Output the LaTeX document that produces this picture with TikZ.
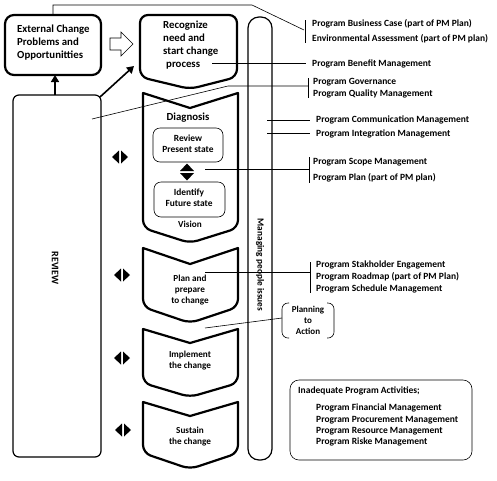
\documentclass[tikz,border=0pt]{standalone}
\usepackage{fontspec}
\setmainfont{Carlito}
\usetikzlibrary{arrows.meta}
\begin{document}
\begin{tikzpicture}[x=1pt,y=-1pt,
  thickline/.style={line width=2.2pt, line join=round},
  thinline/.style={line width=0.6pt},
  medline/.style={line width=1.2pt},
  rtxt/.style={anchor=west, inner sep=0pt, font=\fontsize{9.5}{10}\selectfont\bfseries},
  boxtxt/.style={align=left, anchor=north west, inner sep=0pt, font=\fontsize{10.8}{13}\selectfont\bfseries},
  chevtxt/.style={align=center, inner sep=0pt, font=\fontsize{9.2}{11}\selectfont\bfseries},
  innerbox/.style={draw, thinline, rounded corners=7pt},
  tri/.style={fill=black, draw=none},
  bigarrow/.style={line width=1.6pt, -{Triangle[length=7pt,width=8pt]}}
]
\useasboundingbox (0,0) rectangle (497,480);

% External change box
\node[draw, thickline, rounded corners=9pt, minimum width=96pt, minimum height=60pt, inner sep=0pt] (ext) at (53,45) {};
\node[boxtxt] (exttxt) at (17,25) {External Change\\Problems and\\Opportunitties};

% hollow arrow
\draw[thinline] (110,38) -- (121,38) -- (121,32) -- (133,44) -- (121,56) -- (121,50) -- (110,50) -- cycle;

% Recognize box
\draw[thickline, rounded corners=8pt] (140,45) -- (140,15) -- (237,15) -- (237,77) -- (190,89) -- (140,77) -- cycle;
\node[boxtxt] (rectxt) at (163,20.5) {Recognize\\need and\\start change\\\hspace*{3pt}process};

% REVIEW box
\node[draw, medline, rounded corners=6pt, minimum width=88pt, minimum height=362pt, inner sep=0pt] (review) at (57,276) {};
\node[rotate=-90, inner sep=0pt, font=\fontsize{10}{12}\selectfont\bfseries] (reviewtxt) at (55,268) {REVIEW};

% Managing people bar
\node[draw, medline, rounded corners=11pt, minimum width=24pt, minimum height=443pt, inner sep=0pt] (manage) at (260,238.5) {};
\node[rotate=-90, inner sep=0pt, font=\fontsize{9.3}{11}\selectfont\bfseries] (managetxt) at (260,265) {Managing people issues};

% arrows from review
\coordinate (revtop) at (55,95);
\coordinate (extbot) at (55,75);
\draw[bigarrow] (revtop) -- (extbot);
\coordinate (revcorner) at (100,97);
\coordinate (recleft) at (134,66);
\draw[bigarrow] (revcorner) -- (recleft);

% Chevrons
\draw[thickline] (143,93) -- (190,108) -- (238,93) [rounded corners=8pt] -- (238,228) -- (190,243) -- (143,228) [sharp corners] -- cycle;
\draw[thickline] (143,248) -- (190,264) -- (238,248) [rounded corners=8pt] -- (238,307) -- (190,323) -- (143,307) [sharp corners] -- cycle;
\draw[thickline] (143,329) -- (190,343) -- (238,329) [rounded corners=8pt] -- (238,383) -- (190,397) -- (143,383) [sharp corners] -- cycle;
\draw[thickline] (143,402) -- (190,416) -- (238,402) [rounded corners=8pt] -- (238,453) -- (190,469) -- (143,453) [sharp corners] -- cycle;

% Diagnosis content
\node[chevtxt, font=\fontsize{10.8}{12}\selectfont\bfseries] (diag) at (188,118) {Diagnosis};
\node[innerbox, minimum width=70pt, minimum height=34pt] (present) at (188,145) {};
\node[chevtxt, font=\fontsize{9.4}{11}\selectfont\bfseries] (presenttxt) at (188,144) {Review\\Present state};
\node[innerbox, minimum width=71pt, minimum height=35pt] (future) at (189.5,199.5) {};
\node[chevtxt, font=\fontsize{9.4}{11}\selectfont\bfseries] (futuretxt) at (189,198) {Identify\\Future state};
\node[chevtxt] (vision) at (190,224) {Vision};
\fill[tri] (187,163.5) -- (180,171) -- (194,171) -- cycle;
\fill[tri] (180,173) -- (194,173) -- (187,180.5) -- cycle;

\node[chevtxt] (plan) at (190,290) {Plan and\\prepare\\to change};
\node[chevtxt] (impl) at (190,360.5) {Implement\\the change};
\node[chevtxt] (sust) at (190,436.5) {Sustain\\the change};

% left-right icons
\foreach \cx/\cy in {120/157, 122/275, 122/358, 123/430}{
  \fill[tri] (\cx-8,\cy) -- (\cx-1,\cy-6.5) -- (\cx-1,\cy+6.5) -- cycle;
  \fill[tri] (\cx+8,\cy) -- (\cx+1,\cy-6.5) -- (\cx+1,\cy+6.5) -- cycle;
}

% Right side texts
\node[rtxt] (bcase) at (312,24) {Program Business Case (part of PM Plan)};
\node[rtxt] (envass) at (312,39) {Environmental Assessment (part of PM plan)};
\node[rtxt] (benefit) at (312,64) {Program Benefit Management};
\node[rtxt] (gov) at (313,82) {Program Governance};
\node[rtxt] (qual) at (313,94) {Program Quality Management};
\node[rtxt] (comm) at (316,120) {Program Communication Management};
\node[rtxt] (integ) at (316,134) {Program Integration Management};
\node[rtxt] (scope) at (313,162) {Program Scope Management};
\node[rtxt] (pplan) at (313,178) {Program Plan (part of PM plan)};
\node[rtxt] (stake) at (316,265) {Program Stakholder Engagement};
\node[rtxt] (road) at (316,277) {Program Roadmap (part of PM Plan)};
\node[rtxt] (sched) at (316,289) {Program Schedule Management};

% connectors
\coordinate (b1a) at (305,20); \coordinate (b1b) at (305,43); \coordinate (b1m) at (304,30);
\draw[thinline] (b1a) -- (b1b);
\draw[thinline] (ext.north) -- (53,5) -- (252,5) -- (b1m);
\coordinate (procend) at (212,63); \coordinate (benend) at (306,63);
\draw[thinline] (procend) -- (benend);
\coordinate (b2a) at (308,78); \coordinate (b2b) at (308,98);
\draw[thinline] (b2a) -- (b2b);
\coordinate (govstart) at (92,119);
\draw[thinline] (govstart) -- (228,86) -- (308,86);
\coordinate (c1) at (267,120); \coordinate (c2) at (310,120);
\draw[thinline] (c1) -- (c2);
\coordinate (i1) at (267,133); \coordinate (i2) at (310,133);
\draw[thinline] (i1) -- (i2);
\coordinate (b3a) at (309,157); \coordinate (b3b) at (309,183);
\draw[thinline] (b3a) -- (b3b);
\coordinate (s1) at (205,169); \coordinate (s2) at (309,169);
\draw[thinline] (s1) -- (s2);
\coordinate (b4a) at (310,262); \coordinate (b4b) at (310,293);
\draw[thinline] (b4a) -- (b4b);
\coordinate (p1) at (205,272); \coordinate (p2) at (310,272);
\draw[thinline] (p1) -- (p2);

% Planning to action
\node[chevtxt, font=\fontsize{9}{11}\selectfont\bfseries] (pta) at (308,320.5) {Planning\\to\\Action};
\draw[thinline, rounded corners=6pt] (289,303) -- (282,303) -- (282,338) -- (289,338);
\draw[thinline, rounded corners=6pt] (327,303) -- (334,303) -- (334,338) -- (327,338);
\coordinate (pa1) at (205,328); \coordinate (pa2) at (282,318);
\draw[thinline] (pa1) -- (pa2);

% Inadequate box
\node[draw, thinline, rounded corners=9pt, minimum width=182pt, minimum height=80pt, inner sep=0pt] (inad) at (381,420) {};
\node[rtxt] (inadt) at (298,391) {Inadequate Program Activities;};
\node[rtxt] (fin) at (316,408) {Program Financial Management};
\node[rtxt] (proc) at (316,420) {Program Procurement Management};
\node[rtxt] (res) at (316,431) {Program Resource Management};
\node[rtxt] (risk) at (316,442) {Program Riske Management};
\end{tikzpicture}
\end{document}
